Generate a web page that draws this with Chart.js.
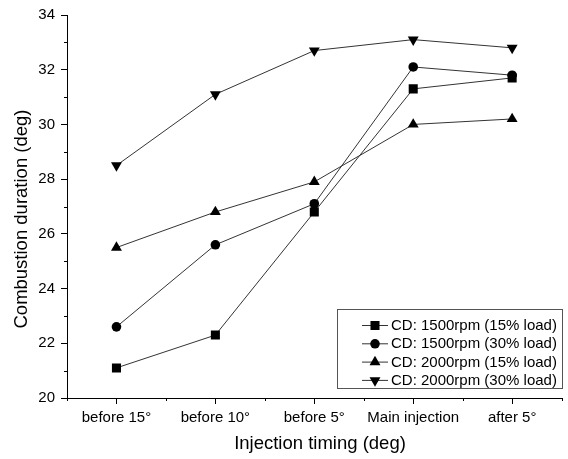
<!DOCTYPE html>
<html>
<head>
<meta charset="utf-8">
<script src="https://cdn.jsdelivr.net/npm/chart.js@4"></script>
<style>
  html, body { margin: 0; padding: 0; background: #fff; }
  #wrap { width: 568px; height: 459px; }
</style>
</head>
<body>
<div id="wrap"><canvas id="chart" width="568" height="459"></canvas></div>
<script>
const categories = ["before 15°", "before 10°", "before 5°", "Main injection", "after 5°"];
const cd1500low = [21.1, 22.3, 26.8, 31.3, 31.7];
const cd1500high = [22.6, 25.6, 27.1, 32.1, 31.8];
const cd2000low = [25.5, 26.8, 27.9, 30.0, 30.2];
const cd2000high = [28.5, 31.1, 32.7, 33.1, 32.8];
const yTicks = [20, 22, 24, 26, 28, 30, 32, 34];
const xTitle = "Injection timing (deg)";
const yTitle = "Combustion duration (deg)";

const font = "'Liberation Sans', Arial, sans-serif";

function series(label, data, style, radius, rotation) {
    return {
        label: label,
        data: data,
        borderColor: "#333",
        borderWidth: 1,
        backgroundColor: "#000",
        pointBackgroundColor: "#000",
        pointBorderColor: "#000",
        pointBorderWidth: 0,
        pointStyle: style,
        pointRadius: radius,
        pointHoverRadius: radius,
        pointRotation: rotation || 0,
        tension: 0
    };
}

// minor ticks, axis titles and the boxed legend inside the plot
const extras = {
    id: "extras",
    afterDraw(chart) {
        const ctx = chart.ctx;
        const area = chart.chartArea;
        const x = chart.scales.x, y = chart.scales.y;
        ctx.save();
        ctx.strokeStyle = "#000";
        ctx.lineWidth = 1;
        ctx.beginPath();
        for (let v = 21; v < 34; v += 2) {
            const py = Math.round(y.getPixelForValue(v)) + 0.5;
            ctx.moveTo(area.left - 3, py);
            ctx.lineTo(area.left, py);
        }
        const step = x.getPixelForValue(1) - x.getPixelForValue(0);
        for (let i = 0; i <= categories.length; i++) {
            const px = Math.round(x.getPixelForValue(0) - step / 2 + i * step) + 0.5;
            ctx.moveTo(px, area.bottom);
            ctx.lineTo(px, area.bottom + 3);
        }
        ctx.stroke();

        // axis titles
        ctx.fillStyle = "#000";
        ctx.font = "18.5px " + font;
        ctx.textAlign = "center";
        ctx.textBaseline = "middle";
        ctx.fillText(xTitle, 320, 444);
        ctx.save();
        ctx.translate(22, 219);
        ctx.rotate(-Math.PI / 2);
        ctx.fillText(yTitle, 0, 0);
        ctx.restore();

        // legend box
        const bx = 337.5, by = 309.5, bw = 225, bh = 79;
        ctx.strokeStyle = "#555";
        ctx.fillStyle = "#fff";
        ctx.fillRect(bx, by, bw, bh);
        ctx.strokeRect(bx, by, bw, bh);
        ctx.font = "15px " + font;
        ctx.textAlign = "left";
        chart.data.datasets.forEach((ds, i) => {
            const ry = 325 + i * 18.3;
            ctx.strokeStyle = "#333";
            ctx.beginPath();
            ctx.moveTo(362, ry + 0.5);
            ctx.lineTo(388, ry + 0.5);
            ctx.stroke();
            ctx.fillStyle = "#000";
            Chart.helpers.drawPoint(ctx, {
                pointStyle: ds.pointStyle,
                rotation: ds.pointRotation,
                radius: ds.pointRadius,
                borderWidth: 0
            }, 375, ry + 0.5);
            ctx.fillStyle = "#000";
            ctx.fillText(ds.label, 391, ry + 1);
        });
        ctx.restore();
    }
};

new Chart(document.getElementById("chart"), {
    type: "line",
    data: {
        labels: categories,
        datasets: [
            series("CD: 1500rpm (15% load)", cd1500low, "rect", 6.4),
            series("CD: 1500rpm (30% load)", cd1500high, "circle", 4.8),
            series("CD: 2000rpm (15% load)", cd2000low, "triangle", 6.3),
            series("CD: 2000rpm (30% load)", cd2000high, "triangle", 6.3, 180)
        ]
    },
    options: {
        responsive: false,
        animation: false,
        layout: { padding: { top: 15, right: 3, left: 0, bottom: 0 } },
        plugins: {
            legend: { display: false },
            tooltip: { enabled: false }
        },
        scales: {
            x: {
                type: "category",
                offset: true,
                border: { color: "#000", width: 1 },
                grid: { drawOnChartArea: false, color: "#000", tickLength: 6, offset: false },
                ticks: { color: "#000", font: { family: font, size: 15 }, padding: 5, maxRotation: 0 },
                afterFit(scale) { scale.height = 61; }
            },
            y: {
                min: 20,
                max: 34,
                border: { color: "#000", width: 1 },
                grid: { drawOnChartArea: false, color: "#000", tickLength: 6 },
                afterBuildTicks(scale) { scale.ticks = yTicks.map(v => ({ value: v })); },
                ticks: { color: "#000", font: { family: font, size: 15 }, padding: 6 },
                afterFit(scale) { scale.width = 67; }
            }
        }
    },
    plugins: [extras]
});
</script>
</body>
</html>
